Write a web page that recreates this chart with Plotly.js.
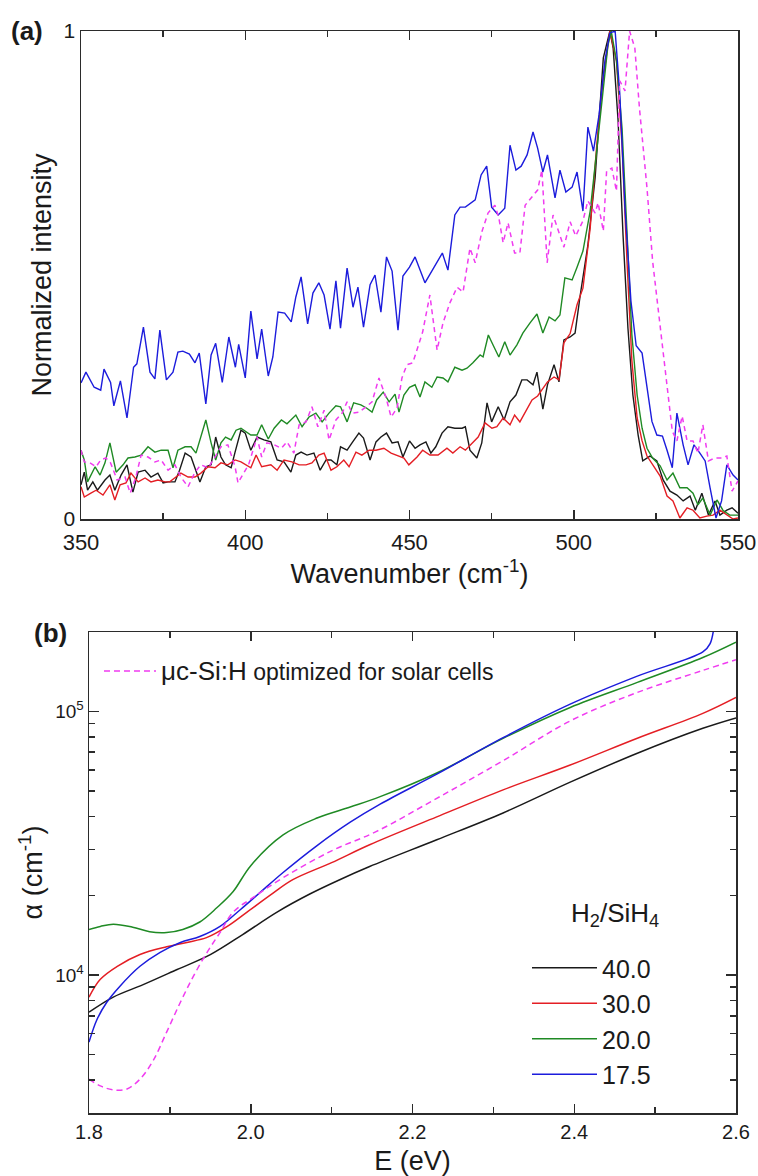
<!DOCTYPE html>
<html>
<head>
<meta charset="utf-8">
<script src="https://cdn.plot.ly/plotly-3.0.1.min.js"></script>
<style>
html,body{margin:0;padding:0;background:#fff;}
#chart{width:758px;height:1176px;}
</style>
</head>
<body>
<div id="chart"></div>
<script>
// ---------- Panel (a): Raman spectra ----------
const ramanX_175 = [350,351.5,354,356,357,359,360,362,364,366,367,369,371,372.5,374,376,378,379.5,381,383,384.7,386,388,389.6,391,393,395,397,398,400,401.7,403.6,405,407,408.4,410,412,414,415.4,417,419,420.6,422.4,424,425.8,427.6,429,431,432.8,434.3,436,438,439.5,441.3,443,444.7,446.5,448,450,451.7,454.7,457.8,460,461.7,463.8,465.4,467,470,471.8,473.5,475,477,479,480.6,482.4,484,485.8,487.6,489,490.6,492,494.3,495.8,497.6,499.5,501,502.8,504.3,506,507.7,509.5,511,512.6,514,515.6,517.4,519,520.8,522.3,523.8,525.3,527,528.4,530,531.4,533.3,534.8,536.6,538.4,540,541.5,543.3,545,546.6,548.5,550];
const ramanY_175 = [0.279,0.301,0.27,0.264,0.307,0.28,0.232,0.283,0.207,0.311,0.318,0.393,0.301,0.287,0.387,0.285,0.301,0.342,0.344,0.338,0.32,0.34,0.236,0.336,0.36,0.28,0.373,0.311,0.358,0.289,0.426,0.328,0.389,0.293,0.332,0.424,0.422,0.404,0.455,0.496,0.4,0.463,0.484,0.459,0.389,0.488,0.391,0.514,0.434,0.475,0.393,0.48,0.5,0.424,0.537,0.508,0.387,0.498,0.516,0.537,0.484,0.52,0.545,0.51,0.623,0.639,0.639,0.654,0.705,0.723,0.639,0.623,0.637,0.766,0.715,0.723,0.746,0.793,0.76,0.711,0.746,0.658,0.715,0.67,0.68,0.711,0.631,0.803,0.754,0.828,0.94,0.996,1.0,0.873,0.637,0.447,0.355,0.34,0.268,0.2,0.172,0.17,0.141,0.105,0.217,0.152,0.111,0.152,0.135,0.119,0.064,0.002,0.037,0.111,0.09,0.08];

const ramanX_ref = [350,351,352.7,354.6,356,357.6,359,361,363.4,365,366.7,368.3,370.4,372.5,374.4,376.5,378.6,380.4,382.6,384.7,386.5,388.7,390.8,392.6,394.7,396.9,397.8,400,401,403.6,405,406.6,408.8,411,412.7,414.8,416.4,418.5,420.3,422.1,424,425.5,427.6,429.5,431,432.5,434.6,436.8,438.6,440.7,442.8,444.4,446.2,447.7,449.2,451,452.3,454,456.2,458.4,460.2,462.3,464.5,466.3,468.4,470,472,473.9,476,477.2,478.5,480,482,483.6,485.2,487.3,489,490.3,491.9,493.7,495.2,497,498.9,500.6,502.8,504.3,506.5,507.4,509,510,511.6,513,514,515.6,517,518.6,520,522.3,524,526.3,528.4,530,531.4,533,534.5,536.3,537.8,539.3,541,543,545,546.6,548.2,550];
const ramanY_ref = [0.141,0.117,0.115,0.107,0.121,0.125,0.115,0.08,0.086,0.053,0.086,0.131,0.127,0.117,0.121,0.1,0.111,0.086,0.066,0.096,0.111,0.105,0.127,0.148,0.152,0.107,0.074,0.1,0.111,0.168,0.127,0.156,0.152,0.145,0.158,0.135,0.193,0.199,0.23,0.189,0.223,0.162,0.203,0.217,0.24,0.217,0.219,0.23,0.24,0.289,0.25,0.209,0.227,0.289,0.316,0.32,0.346,0.383,0.459,0.346,0.402,0.443,0.475,0.465,0.555,0.525,0.588,0.627,0.643,0.617,0.566,0.607,0.545,0.545,0.643,0.66,0.674,0.715,0.525,0.623,0.592,0.557,0.609,0.58,0.611,0.652,0.627,0.648,0.59,0.713,0.719,0.672,0.898,0.877,1.0,0.965,0.842,0.678,0.529,0.391,0.268,0.18,0.16,0.211,0.16,0.16,0.135,0.193,0.119,0.125,0.125,0.129,0.057,0.078];

const ramanX_200 = [350,351,352,354.3,355.8,357.3,358.8,360.7,362.8,364.3,366.4,368.3,370.4,372.5,374.4,376.5,378,379.5,381.7,383.5,385,386.5,388,389.6,391,392.6,394,395.7,397.2,398.7,400,401.7,403.6,405,407,408.8,411,412.7,415.4,417.3,419.4,421.5,423.4,425.5,427.6,429,431,433,435.2,437,438.6,440,442,443.8,445.6,446.8,448.3,450,451.7,453.2,454.7,456.8,458.4,460.2,461.7,463.8,466,467.5,469.3,471.5,472.4,474,475.4,477.2,479,480.6,482.7,484.5,486.7,488.8,490.6,492.5,494.3,495.8,497.3,499.5,501,502.8,505,507,509,510.4,511.4,513,514.7,516.2,517.7,519.3,520.8,522.3,524,526.3,528.4,530.2,532.3,534.5,536.3,537.8,539.3,541.5,543.6,545.4,547.5,550];
const ramanY_200 = [0.141,0.121,0.076,0.107,0.09,0.115,0.156,0.096,0.111,0.125,0.127,0.131,0.148,0.137,0.141,0.141,0.105,0.141,0.148,0.148,0.135,0.168,0.203,0.156,0.121,0.156,0.168,0.162,0.182,0.186,0.18,0.172,0.172,0.193,0.164,0.186,0.203,0.195,0.213,0.189,0.209,0.217,0.199,0.217,0.232,0.23,0.199,0.238,0.234,0.227,0.219,0.244,0.26,0.24,0.256,0.219,0.254,0.27,0.275,0.25,0.281,0.27,0.291,0.289,0.281,0.311,0.305,0.309,0.32,0.336,0.332,0.377,0.357,0.332,0.363,0.336,0.357,0.381,0.402,0.42,0.381,0.414,0.406,0.418,0.494,0.49,0.516,0.549,0.631,0.754,0.883,0.97,1.0,0.939,0.801,0.582,0.377,0.254,0.186,0.145,0.125,0.109,0.08,0.094,0.064,0.064,0.053,0.029,0.043,0.008,0.039,0.018,0.008,0.008];

const ramanX_400 = [350,351,352,353.6,355,357.3,358.8,360.3,362.2,364,365.8,367.4,369.5,371.3,373.4,375,376.5,378.6,380,381.7,383.5,386.2,388,389.6,391,392.6,394,395.7,396.9,398.7,400,401.7,403.6,405.7,407.8,409.7,411.8,413.9,415.4,417,418.8,420.9,422.8,424.6,426.1,427.9,429,431,432.5,434.6,436,438,439.8,441.3,443,444.7,446.5,448,450,451.7,453.2,455,456.5,458,459.9,461.7,463.8,466,467,468.4,470.5,472,473.6,475,477,478.8,480.6,482.4,484.2,485.8,487.6,488.8,490.6,492,494,495.5,497,498.9,500.4,502,504.3,506.5,509,511,512,513.5,515,516.5,518,519.6,521,523.2,525.3,527.2,529.3,531.4,533.3,535.4,537,539,541,543,544.5,546.6,548.2,550];
const ramanY_400 = [0.07,0.096,0.059,0.076,0.059,0.08,0.09,0.059,0.09,0.111,0.055,0.096,0.1,0.086,0.094,0.074,0.076,0.076,0.1,0.135,0.127,0.076,0.107,0.111,0.168,0.127,0.111,0.105,0.137,0.182,0.176,0.141,0.168,0.162,0.158,0.121,0.117,0.096,0.131,0.137,0.131,0.135,0.1,0.121,0.121,0.111,0.148,0.141,0.156,0.176,0.166,0.121,0.158,0.168,0.176,0.156,0.158,0.127,0.16,0.145,0.152,0.158,0.135,0.148,0.176,0.189,0.186,0.186,0.189,0.141,0.125,0.156,0.238,0.199,0.23,0.203,0.24,0.254,0.285,0.285,0.275,0.301,0.225,0.275,0.316,0.281,0.367,0.373,0.381,0.46,0.561,0.699,0.945,1.0,0.965,0.816,0.582,0.391,0.254,0.172,0.119,0.129,0.119,0.08,0.057,0.049,0.037,0.047,0.018,0.053,0.008,0.037,0.008,0.018,0.023,0.012];

const ramanX_300 = [350,351,353,354.6,356.7,358.8,360.3,361.9,363.7,365.2,367.4,369.5,371.3,373.4,375.6,377,378.9,380.4,382.6,384.7,386.5,388.7,390.8,392.6,394.7,396.9,398.7,400,401.7,403.3,405,407.8,409.7,411.8,414.2,416.4,418.5,420.3,422.4,424,426.1,427.9,430,431.6,433.7,435.5,437.7,439.8,442.2,444.4,446.2,448.3,449.8,452.3,454,456.2,458.7,461.4,463.2,465.4,467,469,470.9,473,475.1,476.6,478.5,480.6,482,483.6,485.5,487.3,489,490.6,492,494,495.5,497,498.9,501,502.8,505,507,509,511,513,514.7,516.2,517.7,519.3,520.8,522.3,524,526.3,528.4,530.2,532.3,534.5,536.3,538.4,540.5,542.4,544.5,546.6,548.5,550];
const ramanY_300 = [0.066,0.045,0.053,0.059,0.049,0.07,0.039,0.07,0.074,0.094,0.076,0.084,0.076,0.08,0.076,0.076,0.086,0.094,0.086,0.086,0.094,0.107,0.105,0.115,0.111,0.121,0.117,0.111,0.105,0.131,0.107,0.111,0.1,0.121,0.117,0.111,0.111,0.115,0.131,0.135,0.1,0.107,0.121,0.107,0.137,0.131,0.141,0.141,0.145,0.135,0.131,0.125,0.111,0.127,0.141,0.131,0.131,0.145,0.135,0.148,0.141,0.156,0.168,0.197,0.186,0.189,0.207,0.193,0.213,0.199,0.223,0.244,0.252,0.268,0.281,0.291,0.285,0.361,0.38,0.439,0.473,0.596,0.766,0.904,1.0,0.939,0.766,0.529,0.324,0.207,0.16,0.129,0.111,0.088,0.047,0.037,0.002,0.023,0.018,0.002,0.006,0.008,0.018,0.008,0.0,0.002];

// ---------- Panel (b): absorption coefficient ----------
const energy_400 = [1.8,1.83,1.867,1.909,1.95,1.99,2.032,2.073,2.11,2.147,2.23,2.312,2.395,2.478,2.559,2.6];
const alpha_400 = [7230,8250,9200,10500,11960,14250,17300,20300,23000,25800,32600,41200,53900,69400,86300,94500];

const energy_300 = [1.8,1.814,1.835,1.863,1.896,1.921,1.946,1.971,1.995,2.028,2.052,2.1,2.147,2.23,2.312,2.395,2.478,2.559,2.6];
const alpha_300 = [8250,9640,10800,11970,12800,13300,13900,15300,17300,20500,23000,26700,31200,39800,50400,62600,79100,98300,113000];

const energy_200 = [1.8,1.814,1.83,1.854,1.875,1.896,1.916,1.937,1.958,1.978,2.0,2.04,2.082,2.123,2.16,2.23,2.312,2.395,2.478,2.559,2.6];
const alpha_200 = [14900,15300,15600,15200,14600,14500,14900,15900,18000,20700,26000,34000,39400,43400,47500,58400,79000,103500,128800,160000,183000];

const energy_175 = [1.8,1.81,1.822,1.838,1.863,1.888,1.913,1.937,1.962,1.987,2.011,2.04,2.082,2.123,2.16,2.23,2.312,2.395,2.478,2.559,2.568,2.574,2.58];
const alpha_175 = [5570,6800,7890,9060,10800,12200,13300,14000,15300,17700,20500,24500,31000,38000,44500,57800,79500,106500,136000,168000,180600,221000,300000];

const energy_ref = [1.8,1.814,1.83,1.847,1.863,1.879,1.896,1.913,1.929,1.946,1.962,1.978,2.003,2.04,2.1,2.155,2.23,2.312,2.395,2.478,2.559,2.6];
const alpha_ref = [4030,3800,3670,3700,4030,4720,6080,7890,9890,12200,14500,17300,19700,23400,29600,35000,46800,65000,92000,118000,143000,157000];

const seriesNames = ['40.0','30.0','20.0','17.5'];
const refName = '<span style="font-size:26px">\u03bcc-Si:H</span><span style="font-size:23px"> optimized for solar cells</span>';
const xTicksA = [350,400,450,500,550];
const xMinorA = [375,425,475,525];
const xTicksB = [1.8,2.0,2.2,2.4,2.6];
const xTickTextB = ['1.8','2.0','2.2','2.4','2.6'];
const xMinorB = [1.9,2.1,2.3,2.5];
const yTicksB = [1e4,1e5];
const yTickTextB = ['10<sup>4</sup>','10<sup>5</sup>'];
const yMinorB = [4000,5000,6000,7000,8000,9000,20000,30000,40000,50000,60000,70000,80000,90000];

const C = {k:'#1a1a1a', r:'#e41e24', g:'#1f8a24', b:'#1c1cdc', m:'#f03cf0'};
const FONT = 'Liberation Sans, Arial, sans-serif';
const W = 758, H = 1176;
const px = v => v / W;
const py = v => 1 - v / H;

const traces = [
  // panel a
  {x: ramanX_400, y: ramanY_400, xaxis:'x', yaxis:'y', mode:'lines', line:{color:C.k, width:1.4}, showlegend:false, name:seriesNames[0]},
  {x: ramanX_300, y: ramanY_300, xaxis:'x', yaxis:'y', mode:'lines', line:{color:C.r, width:1.4}, showlegend:false, name:seriesNames[1]},
  {x: ramanX_200, y: ramanY_200, xaxis:'x', yaxis:'y', mode:'lines', line:{color:C.g, width:1.4}, showlegend:false, name:seriesNames[2]},
  {x: ramanX_175, y: ramanY_175, xaxis:'x', yaxis:'y', mode:'lines', line:{color:C.b, width:1.4}, showlegend:false, name:seriesNames[3]},
  {x: ramanX_ref, y: ramanY_ref, xaxis:'x', yaxis:'y', mode:'lines', line:{color:C.m, width:1.5, dash:'5px,4px'}, showlegend:false, name:'ref'},
  // panel b
  {x: energy_400, y: alpha_400, xaxis:'x2', yaxis:'y2', mode:'lines', line:{color:C.k, width:1.5, shape:'spline'}, name:seriesNames[0], legend:'legend'},
  {x: energy_300, y: alpha_300, xaxis:'x2', yaxis:'y2', mode:'lines', line:{color:C.r, width:1.5, shape:'spline'}, name:seriesNames[1], legend:'legend'},
  {x: energy_200, y: alpha_200, xaxis:'x2', yaxis:'y2', mode:'lines', line:{color:C.g, width:1.5, shape:'spline'}, name:seriesNames[2], legend:'legend'},
  {x: energy_175, y: alpha_175, xaxis:'x2', yaxis:'y2', mode:'lines', line:{color:C.b, width:1.5, shape:'spline'}, name:seriesNames[3], legend:'legend'},
  {x: energy_ref, y: alpha_ref, xaxis:'x2', yaxis:'y2', mode:'lines', line:{color:C.m, width:1.5, dash:'6px,4px', shape:'spline'}, name:refName, legend:'legend2'}
];

const axisBase = {
  showline:true, linecolor:'#2b2b2b', linewidth:1.5, mirror:'allticks',
  showgrid:false, zeroline:false, ticks:'inside', tickcolor:'#2b2b2b', tickwidth:1.5,
  automargin:false, tickfont:{family:FONT, size:22, color:'#1a1a1a'}
};

const layout = {
  width: W, height: H,
  margin:{l:0, r:0, t:0, b:0, pad:0},
  paper_bgcolor:'#fff', plot_bgcolor:'#fff',
  font:{family:FONT, color:'#1a1a1a'},
  xaxis: Object.assign({}, axisBase, {
    domain:[px(81), px(738)], anchor:'y', range:[350,550],
    tickmode:'array', tickvals:xTicksA, ticklen:9, ticklabelstandoff:3,
    minor:{tickmode:'array', tickvals:xMinorA, ticks:'inside', ticklen:6, tickwidth:1.5, tickcolor:'#2b2b2b'},
    title:{text:'Wavenumber (cm<sup>-1</sup>)', font:{family:FONT, size:27}, standoff:8}
  }),
  yaxis: Object.assign({}, axisBase, {
    domain:[py(519), py(31)], anchor:'x', range:[0,1],
    tickmode:'array', tickvals:[0,1], ticktext:['0','1'], ticks:'', mirror:true,
    tickfont:{family:FONT, size:21, color:'#1a1a1a'},
    title:{text:'Normalized intensity', font:{family:FONT, size:27}, standoff:4}
  }),
  xaxis2: Object.assign({}, axisBase, {
    domain:[px(89), px(736)], anchor:'y2', range:[1.8,2.6],
    tickmode:'array', tickvals:xTicksB, ticktext:xTickTextB, ticklen:9,
    tickfont:{family:FONT, size:20, color:'#1a1a1a'},
    minor:{tickmode:'array', tickvals:xMinorB, ticks:'inside', ticklen:6, tickwidth:1.5, tickcolor:'#2b2b2b'},
    title:{text:'E (eV)', font:{family:FONT, size:27}}
  }),
  yaxis2: Object.assign({}, axisBase, {
    domain:[py(1113), py(632)], anchor:'x2', type:'log',
    range:[Math.log10(3000), Math.log10(200000)],
    tickmode:'array', tickvals:yTicksB, ticktext:yTickTextB, ticklen:10,
    tickfont:{family:FONT, size:19, color:'#1a1a1a'},
    minor:{tickmode:'array', tickvals:yMinorB, ticks:'inside', ticklen:6, tickwidth:1.5, tickcolor:'#2b2b2b'},
    title:{text:'\u03b1 (cm<sup>-1</sup>)', font:{family:FONT, size:27}, standoff:4}
  }),
  legend:{
    x: px(527), y: py(945), xanchor:'left', yanchor:'top',
    bgcolor:'rgba(0,0,0,0)', borderwidth:0,
    font:{family:FONT, size:25, color:'#1a1a1a'},
    itemwidth:65, traceorder:'normal', tracegroupgap:0
  },
  legend2:{
    x: px(99), y: py(649), xanchor:'left', yanchor:'top',
    bgcolor:'rgba(0,0,0,0)', borderwidth:0,
    font:{family:FONT, size:24, color:'#1a1a1a'},
    itemwidth:52
  },
  annotations:[
    {text:'<b>(a)</b>', xref:'paper', yref:'paper', x:px(27), y:py(31), xanchor:'center', yanchor:'middle', showarrow:false, font:{family:FONT, size:26}},
    {text:'<b>(b)</b>', xref:'paper', yref:'paper', x:px(50), y:py(633), xanchor:'center', yanchor:'middle', showarrow:false, font:{family:FONT, size:26}},
    {text:'H<sub>2</sub>/SiH<sub>4</sub>', xref:'paper', yref:'paper', x:px(661), y:py(915), xanchor:'right', yanchor:'middle', showarrow:false, font:{family:FONT, size:26}}
  ]
};

Plotly.newPlot('chart', traces, layout, {staticPlot:true, displayModeBar:false});
</script>
</body>
</html>
